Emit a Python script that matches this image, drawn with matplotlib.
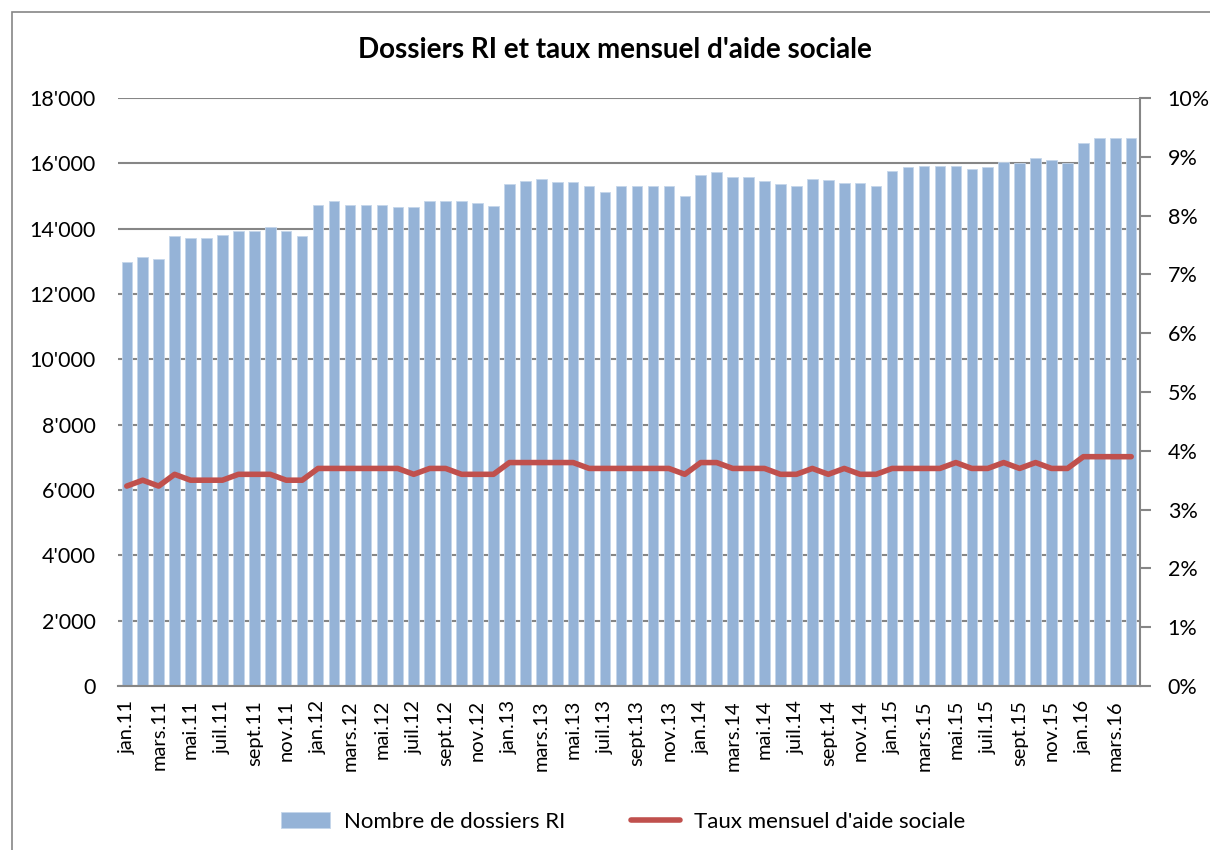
import matplotlib.pyplot as plt
import matplotlib.ticker as mticker
from matplotlib.patches import Rectangle
import numpy as np

plt.rc('font', family=['Lato', 'DejaVu Sans'])

#------------------------------------------------------------------------------#

months = ["jan.", "févr.", "mars.", "avr.", "mai.", "juin.",
          "juil.", "août.", "sept.", "oct.", "nov.", "déc."]
years = ["11", "12", "13", "14", "15", "16"]
n_months = 64

labels = [months[k % 12] + years[k // 12] for k in range(n_months)]

dossiers = [12970, 13130, 13080, 13765, 13710, 13710, 13815, 13925, 13925, 14050,
            13925, 13765, 14720, 14845, 14720, 14720, 14720, 14670, 14670, 14845,
            14845, 14845, 14780, 14680, 15355, 15470, 15530, 15420, 15420, 15305,
            15130, 15305, 15305, 15305, 15305, 15010, 15640, 15750, 15590, 15590,
            15470, 15355, 15305, 15530, 15475, 15410, 15410, 15305, 15765, 15875,
            15915, 15915, 15915, 15815, 15875, 16040, 16000, 16160, 16100, 16000,
            16610, 16785, 16785, 16785]

taux = [3.4, 3.5, 3.4, 3.6, 3.5, 3.5, 3.5, 3.6, 3.6, 3.6, 3.5, 3.5,
        3.7, 3.7, 3.7, 3.7, 3.7, 3.7, 3.6, 3.7, 3.7, 3.6, 3.6, 3.6,
        3.8, 3.8, 3.8, 3.8, 3.8, 3.7, 3.7, 3.7, 3.7, 3.7, 3.7, 3.6,
        3.8, 3.8, 3.7, 3.7, 3.7, 3.6, 3.6, 3.7, 3.6, 3.7, 3.6, 3.6,
        3.7, 3.7, 3.7, 3.7, 3.8, 3.7, 3.7, 3.8, 3.7, 3.8, 3.7, 3.7,
        3.9, 3.9, 3.9, 3.9]

#------------------------------------------------------------------------------#

grid_col = '#868686'
bar_col = '#95B3D7'
line_col = '#C0504D'
fs = 15.5

fig = plt.figure(figsize=(12.1, 8.5), dpi=100)
ax = fig.add_axes([118/1210, 1-686/850, (1140-118)/1210, (686-98)/850])

# outer chart border
fig.patches.append(Rectangle((12/1210, -0.05), 1.1, 1-12/850+0.05,
                             transform=fig.transFigure, fill=False,
                             edgecolor=grid_col, linewidth=1.2))

x = np.arange(n_months)
bars = ax.bar(x, dossiers, width=0.66, color=bar_col, edgecolor='#C5D6EA',
              linewidth=0.6, label='Nombre de dossiers RI', zorder=2)

ax.set_xlim(-0.55, n_months - 0.45)
ax.set_ylim(0, 18000)
ax.set_yticks(np.arange(0, 18001, 2000))
ax.yaxis.set_major_formatter(mticker.FuncFormatter(
    lambda v, p: '{:,.0f}'.format(v).replace(',', "'")))
ax.grid(axis='y', color=grid_col, linewidth=1.5, zorder=0)
ax.set_axisbelow(True)

ax.set_xticks(x[::2])
ax.set_xticklabels(labels[::2], rotation=90, va='top')
ax.tick_params(axis='x', length=0, pad=10, labelsize=14.5)
ax.tick_params(axis='y', length=0, pad=16, labelsize=fs)

for side in ['left', 'top', 'right']:
    ax.spines[side].set_visible(False)
ax.spines['bottom'].set_color(grid_col)
ax.spines['bottom'].set_linewidth(1.5)

ax2 = ax.twinx()
line, = ax2.plot(x, np.array(taux) / 100, color=line_col, linewidth=4,
                 solid_capstyle='round', label="Taux mensuel d'aide sociale",
                 zorder=3)
ax2.set_ylim(0, 0.10)
ax2.set_yticks(np.arange(0, 0.101, 0.01))
ax2.yaxis.set_major_formatter(mticker.FuncFormatter(
    lambda v, p: '{:.0f}%'.format(v * 100)))
ax2.tick_params(axis='y', direction='out', length=8, width=1.5,
                color=grid_col, pad=12, labelsize=fs)
for side in ['left', 'top', 'bottom']:
    ax2.spines[side].set_visible(False)
ax2.spines['right'].set_color(grid_col)
ax2.spines['right'].set_linewidth(1.5)

fig.text(0.508, 1-50/850, "Dossiers RI et taux mensuel d'aide sociale",
         ha='center', va='center', fontsize=20, fontweight='bold')

fig.legend([bars, line], ['Nombre de dossiers RI', "Taux mensuel d'aide sociale"],
           loc='center', bbox_to_anchor=(0.515, 1-822/850), ncol=2,
           frameon=False, fontsize=16, handlelength=2.2, columnspacing=3.0,
           handletextpad=0.6)

fig.savefig('out.png', dpi=100)
